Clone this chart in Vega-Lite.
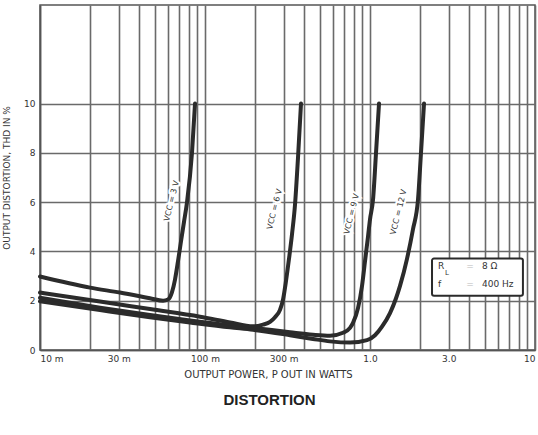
{
  "$schema": "https://vega.github.io/schema/vega-lite/v6.json",
  "width": 495,
  "height": 345,
  "autosize": {"type": "none"},
  "padding": {"left": 40, "top": 5, "right": 3, "bottom": 85},
  "background": "white",
  "title": {"text": "DISTORTION", "orient": "bottom", "offset": 14, "dx": -18, "fontSize": 15, "fontWeight": "bold", "font": "Liberation Sans", "color": "#222", "anchor": "middle"},
  "config": {
    "view": {"stroke": "#555", "strokeWidth": 1.5},
    "font": "DejaVu Sans"
  },
  "datasets": {
    "curves": [
      {"vcc": "3 V", "p": 0.01, "thd": 2.98},
      {"vcc": "3 V", "p": 0.0201, "thd": 2.53},
      {"vcc": "3 V", "p": 0.0305, "thd": 2.33},
      {"vcc": "3 V", "p": 0.0464, "thd": 2.1},
      {"vcc": "3 V", "p": 0.0557, "thd": 2.0},
      {"vcc": "3 V", "p": 0.0597, "thd": 2.05},
      {"vcc": "3 V", "p": 0.0631, "thd": 2.35},
      {"vcc": "3 V", "p": 0.0658, "thd": 2.86},
      {"vcc": "3 V", "p": 0.0686, "thd": 3.6},
      {"vcc": "3 V", "p": 0.0715, "thd": 4.4},
      {"vcc": "3 V", "p": 0.0746, "thd": 5.2},
      {"vcc": "3 V", "p": 0.0778, "thd": 6.0},
      {"vcc": "3 V", "p": 0.0834, "thd": 8.0},
      {"vcc": "3 V", "p": 0.087, "thd": 10.0},
      {"vcc": "6 V", "p": 0.01, "thd": 2.33},
      {"vcc": "6 V", "p": 0.0231, "thd": 1.97},
      {"vcc": "6 V", "p": 0.0464, "thd": 1.66},
      {"vcc": "6 V", "p": 0.0933, "thd": 1.35},
      {"vcc": "6 V", "p": 0.1417, "thd": 1.12},
      {"vcc": "6 V", "p": 0.1954, "thd": 0.96},
      {"vcc": "6 V", "p": 0.2247, "thd": 1.03},
      {"vcc": "6 V", "p": 0.2477, "thd": 1.14},
      {"vcc": "6 V", "p": 0.2656, "thd": 1.33},
      {"vcc": "6 V", "p": 0.2848, "thd": 1.63},
      {"vcc": "6 V", "p": 0.297, "thd": 2.04},
      {"vcc": "6 V", "p": 0.3097, "thd": 2.8},
      {"vcc": "6 V", "p": 0.3229, "thd": 3.7},
      {"vcc": "6 V", "p": 0.3368, "thd": 4.7},
      {"vcc": "6 V", "p": 0.3512, "thd": 5.9},
      {"vcc": "6 V", "p": 0.3661, "thd": 7.8},
      {"vcc": "6 V", "p": 0.3818, "thd": 10.0},
      {"vcc": "9 V", "p": 0.01, "thd": 2.12},
      {"vcc": "9 V", "p": 0.0231, "thd": 1.72},
      {"vcc": "9 V", "p": 0.0464, "thd": 1.42},
      {"vcc": "9 V", "p": 0.0811, "thd": 1.2},
      {"vcc": "9 V", "p": 0.1417, "thd": 1.0},
      {"vcc": "9 V", "p": 0.1954, "thd": 0.9},
      {"vcc": "9 V", "p": 0.3275, "thd": 0.72},
      {"vcc": "9 V", "p": 0.4513, "thd": 0.62},
      {"vcc": "9 V", "p": 0.5724, "thd": 0.58},
      {"vcc": "9 V", "p": 0.6861, "thd": 0.7},
      {"vcc": "9 V", "p": 0.7567, "thd": 0.9},
      {"vcc": "9 V", "p": 0.7889, "thd": 1.1},
      {"vcc": "9 V", "p": 0.8458, "thd": 1.7},
      {"vcc": "9 V", "p": 0.8945, "thd": 2.6},
      {"vcc": "9 V", "p": 0.9326, "thd": 3.6},
      {"vcc": "9 V", "p": 0.9725, "thd": 4.6},
      {"vcc": "9 V", "p": 1.0, "thd": 5.3},
      {"vcc": "9 V", "p": 1.043, "thd": 6.1},
      {"vcc": "9 V", "p": 1.0875, "thd": 8.0},
      {"vcc": "9 V", "p": 1.134, "thd": 10.0},
      {"vcc": "12 V", "p": 0.01, "thd": 1.98},
      {"vcc": "12 V", "p": 0.0231, "thd": 1.62},
      {"vcc": "12 V", "p": 0.0464, "thd": 1.33},
      {"vcc": "12 V", "p": 0.0811, "thd": 1.12},
      {"vcc": "12 V", "p": 0.1417, "thd": 0.92},
      {"vcc": "12 V", "p": 0.1954, "thd": 0.82},
      {"vcc": "12 V", "p": 0.3275, "thd": 0.6},
      {"vcc": "12 V", "p": 0.4513, "thd": 0.45},
      {"vcc": "12 V", "p": 0.5724, "thd": 0.35},
      {"vcc": "12 V", "p": 0.7567, "thd": 0.3},
      {"vcc": "12 V", "p": 0.959, "thd": 0.4},
      {"vcc": "12 V", "p": 1.072, "thd": 0.6},
      {"vcc": "12 V", "p": 1.182, "thd": 0.95},
      {"vcc": "12 V", "p": 1.322, "thd": 1.5},
      {"vcc": "12 V", "p": 1.438, "thd": 2.1},
      {"vcc": "12 V", "p": 1.52, "thd": 2.6},
      {"vcc": "12 V", "p": 1.676, "thd": 3.7},
      {"vcc": "12 V", "p": 1.822, "thd": 4.9},
      {"vcc": "12 V", "p": 1.954, "thd": 6.1},
      {"vcc": "12 V", "p": 2.037, "thd": 8.0},
      {"vcc": "12 V", "p": 2.125, "thd": 10.0}
    ],
    "labels": [
      {"text": "VCC = 3 V", "p": 0.0631, "thd": 6.04},
      {"text": "VCC = 6 V", "p": 0.2656, "thd": 5.71},
      {"text": "VCC = 9 V", "p": 0.778, "thd": 5.51},
      {"text": "VCC = 12 V", "p": 1.499, "thd": 5.59}
    ],
    "box": [
      {"p": 2.376, "p2": 8.45, "thd": 3.71, "thd2": 2.2}
    ],
    "boxtext": [
      {"text": "R", "p": 2.582, "thd": 3.39},
      {"text": "f", "p": 2.582, "thd": 2.69},
      {"text": "8 Ω", "p": 4.773, "thd": 3.39},
      {"text": "400 Hz", "p": 4.773, "thd": 2.69}
    ],
    "subtext": [
      {"text": "L", "p": 2.85, "thd": 3.12}
    ],
    "eqtext": [
      {"text": "=", "p": 4.04, "thd": 3.39},
      {"text": "=", "p": 4.04, "thd": 2.69}
    ]
  },
  "encoding": {
    "x": {
      "field": "p", "type": "quantitative",
      "scale": {"type": "log", "domain": [0.01, 10], "nice": false},
      "axis": {
        "title": "OUTPUT POWER, P OUT IN WATTS",
        "titleX": 228,
        "values": [0.01, 0.02, 0.03, 0.04, 0.05, 0.06, 0.07, 0.08, 0.09, 0.1, 0.2, 0.3, 0.4, 0.5, 0.6, 0.7, 0.8, 0.9, 1, 2, 3, 4, 5, 6, 7, 8, 9, 10],
        "labelExpr": "abs(datum.value-0.01)<1e-9 ? '10 m' : abs(datum.value-0.03)<1e-9 ? '30 m' : abs(datum.value-0.1)<1e-9 ? '100 m' : abs(datum.value-0.3)<1e-9 ? '300 m' : abs(datum.value-1)<1e-9 ? '1.0' : abs(datum.value-3)<1e-9 ? '3.0' : abs(datum.value-10)<1e-9 ? '10' : ''",
        "labelOverlap": false,
        "labelFlush": true,
        "grid": true,
        "gridColor": "#6a6a6a",
        "gridWidth": 1.6,
        "gridOpacity": 1,
        "tickSize": 0,
        "domainColor": "#555",
        "domainWidth": 1.5,
        "labelFontSize": 9,
        "labelColor": "#333",
        "labelPadding": 4,
        "titleFontSize": 10,
        "titleFontWeight": "normal",
        "titleColor": "#333",
        "titlePadding": 6
      }
    },
    "y": {
      "field": "thd", "type": "quantitative",
      "scale": {"domain": [0, 14], "nice": false, "zero": false},
      "axis": {
        "title": "OUTPUT DISTORTION, THD IN %",
        "values": [0, 2, 4, 6, 8, 10],
        "grid": true,
        "gridColor": "#6a6a6a",
        "gridWidth": 1.6,
        "gridOpacity": 1,
        "tickSize": 0,
        "domainColor": "#555",
        "domainWidth": 1.5,
        "labelFontSize": 9,
        "labelColor": "#333",
        "labelPadding": 5,
        "titleFontSize": 9,
        "titleFontWeight": "normal",
        "titleColor": "#333",
        "titlePadding": 12
      }
    }
  },
  "layer": [
    {
      "data": {"name": "labels"},
      "mark": {"type": "text", "angle": -76, "fontSize": 8, "color": "white", "stroke": "white", "strokeWidth": 4, "align": "center", "baseline": "middle"},
      "encoding": {"text": {"field": "text"}}
    },
    {
      "data": {"name": "curves"},
      "mark": {"type": "line", "color": "#2b2b2b", "strokeWidth": 4, "interpolate": "monotone", "strokeCap": "round"},
      "encoding": {"detail": {"field": "vcc", "type": "nominal"}}
    },
    {
      "data": {"name": "labels"},
      "mark": {"type": "text", "angle": -76, "fontSize": 8, "color": "#333", "align": "center", "baseline": "middle"},
      "encoding": {"text": {"field": "text"}}
    },
    {
      "data": {"name": "box"},
      "mark": {"type": "rect", "fill": "white", "stroke": "#2b2b2b", "strokeWidth": 2, "cornerRadius": 2},
      "encoding": {"x2": {"field": "p2"}, "y2": {"field": "thd2"}}
    },
    {
      "data": {"name": "boxtext"},
      "mark": {"type": "text", "fontSize": 9, "color": "#333", "align": "left", "baseline": "middle"},
      "encoding": {"text": {"field": "text"}}
    },
    {
      "data": {"name": "subtext"},
      "mark": {"type": "text", "fontSize": 7, "color": "#333", "align": "left", "baseline": "middle"},
      "encoding": {"text": {"field": "text"}}
    },
    {
      "data": {"name": "eqtext"},
      "mark": {"type": "text", "fontSize": 9, "color": "#bbb", "align": "center", "baseline": "middle"},
      "encoding": {"text": {"field": "text"}}
    }
  ]
}
